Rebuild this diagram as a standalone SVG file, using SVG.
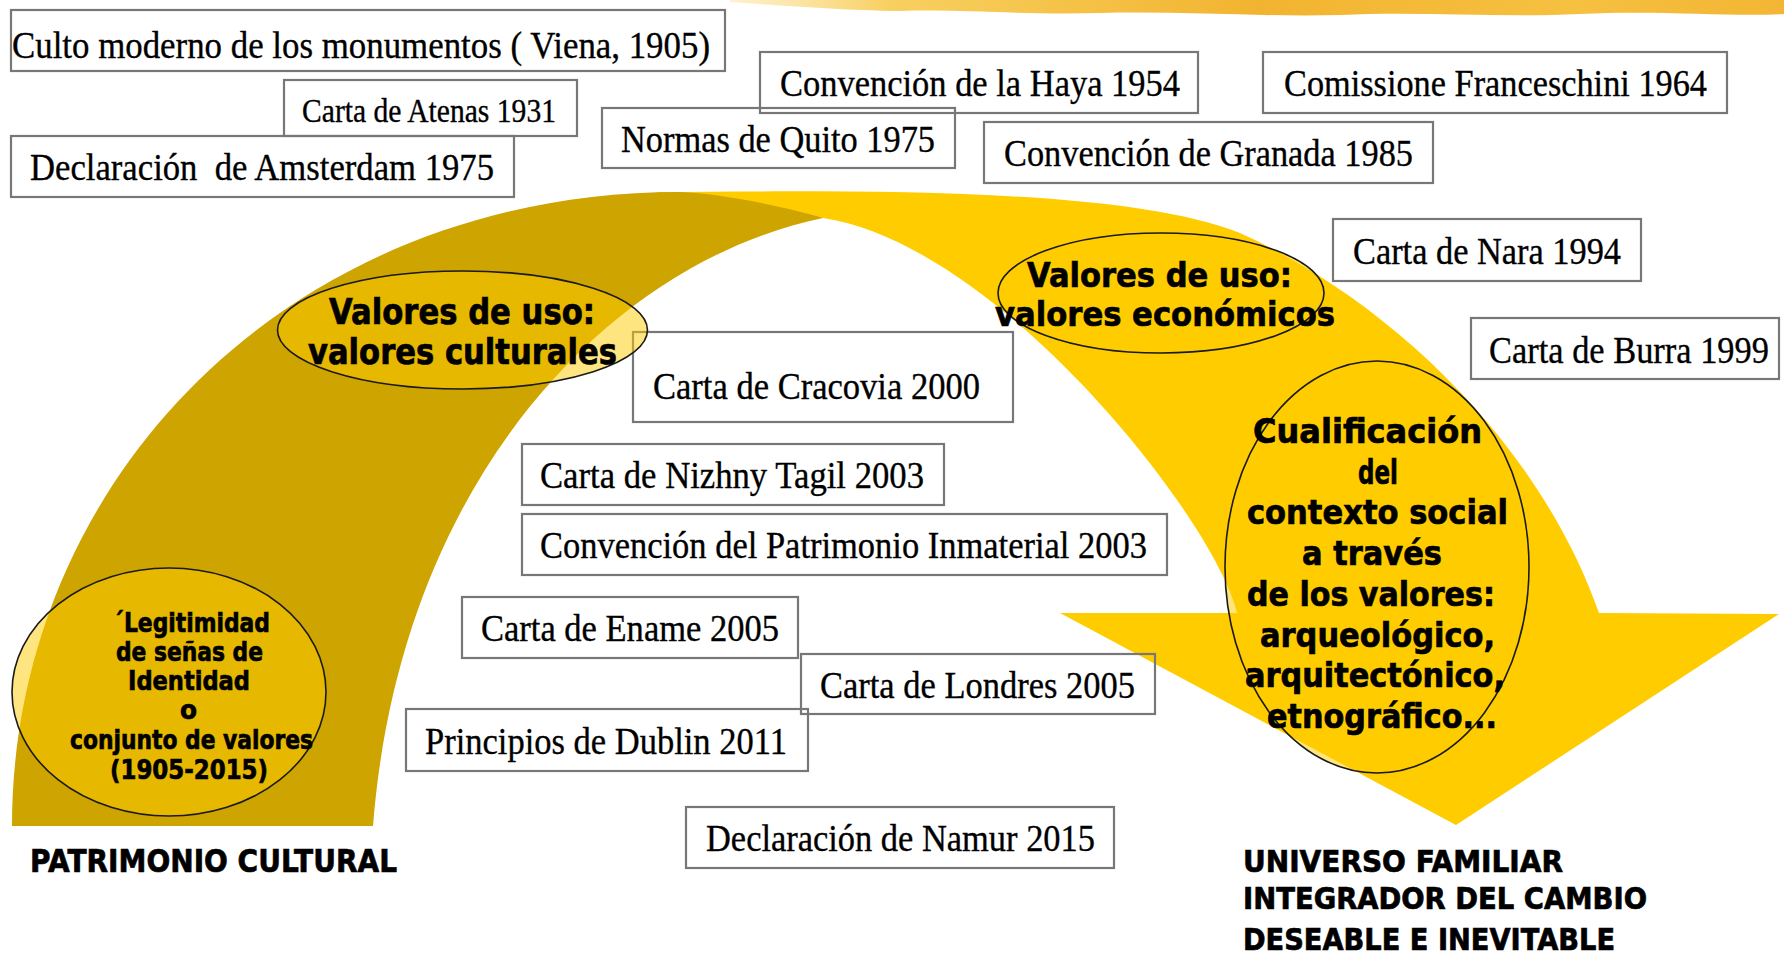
<svg xmlns="http://www.w3.org/2000/svg" width="1784" height="956" viewBox="0 0 1784 956">
<defs>
<linearGradient id="band" x1="0" y1="0" x2="1" y2="0">
<stop offset="0" stop-color="#FBE29A" stop-opacity="0.5"/>
<stop offset="0.15" stop-color="#F8D060"/>
<stop offset="0.5" stop-color="#F2B430"/>
<stop offset="0.8" stop-color="#F6C040"/>
<stop offset="1" stop-color="#F3B534"/>
</linearGradient>
<style>
.box rect{fill:none;stroke:#777;stroke-width:2.2}
.t{font-family:"Liberation Serif","Times New Roman",serif;font-size:38px;fill:#000;stroke:#000;stroke-width:0.35}
.b{font-family:Tahoma,"DejaVu Sans",sans-serif;font-weight:bold;fill:#000;stroke:#000;stroke-width:0.7}
.ell{fill:#FFCC00;fill-opacity:0.5;stroke:#1a1a1a;stroke-width:1.6}
</style>
</defs>
<rect width="1784" height="956" fill="#fff"/>
<path id="topband" d="M730,0 L1784,0 L1784,14 C1730,17 1660,10 1580,14 C1500,18 1420,11 1340,15 C1260,17 1180,11 1100,13 C1020,15 960,9 900,11 C840,10 790,6 730,2 Z" fill="url(#band)"/>
<g id="arch">
<path id="arrow" d="M620,200 L660,192 C900,190 1130,190 1240,233 C1390,301 1539,443 1599,613 L1779,614 L1456,825 L1060,613 L1237,613 C1215,520 1000,245 823,218 L700,220 Z" fill="#FFCC00"/>
<path id="band-left" d="M12,826 C12,480 290,192 680,192 C720,193 790,208 823,218 C610,262 400,480 373,826 Z" fill="#CDA400"/>
</g>
<g id="n-culto" class="box"><rect x="11" y="10" width="714" height="61"/><text class="t" x="12" y="58" textLength="698" lengthAdjust="spacingAndGlyphs">Culto moderno de los monumentos ( Viena, 1905)</text></g>
<g id="n-atenas" class="box"><rect x="284" y="80" width="293" height="56"/><text class="t" x="302" y="122" style="font-size:33px" textLength="254" lengthAdjust="spacingAndGlyphs">Carta de Atenas 1931</text></g>
<g id="n-amsterdam" class="box"><rect x="11" y="136" width="503" height="61"/><text class="t" x="30" y="180" xml:space="preserve" style="white-space:pre" textLength="464" lengthAdjust="spacingAndGlyphs">Declaración  de Amsterdam 1975</text></g>
<g id="n-quito" class="box"><rect x="602" y="108" width="353" height="60"/><text class="t" x="621" y="152" textLength="314" lengthAdjust="spacingAndGlyphs">Normas de Quito 1975</text></g>
<g id="n-haya" class="box"><rect x="760" y="52" width="438" height="61"/><text class="t" x="780" y="96" textLength="400" lengthAdjust="spacingAndGlyphs">Convención de la Haya 1954</text></g>
<g id="n-franceschini" class="box"><rect x="1263" y="52" width="464" height="61"/><text class="t" x="1284" y="96" textLength="423" lengthAdjust="spacingAndGlyphs">Comissione Franceschini 1964</text></g>
<g id="n-granada" class="box"><rect x="984" y="122" width="449" height="61"/><text class="t" x="1004" y="166" textLength="409" lengthAdjust="spacingAndGlyphs">Convención de Granada 1985</text></g>
<g id="n-nara" class="box"><rect x="1333" y="219" width="308" height="62"/><text class="t" x="1353" y="264" textLength="268" lengthAdjust="spacingAndGlyphs">Carta de Nara 1994</text></g>
<g id="n-burra" class="box"><rect x="1471" y="318" width="308" height="61"/><text class="t" x="1489" y="363" textLength="280" lengthAdjust="spacingAndGlyphs">Carta de Burra 1999</text></g>
<g id="n-cracovia" class="box"><rect x="633" y="332" width="380" height="90"/><text class="t" x="653" y="399" textLength="327" lengthAdjust="spacingAndGlyphs">Carta de Cracovia 2000</text></g>
<g id="n-nizhny" class="box"><rect x="522" y="444" width="422" height="61"/><text class="t" x="540" y="488" textLength="384" lengthAdjust="spacingAndGlyphs">Carta de Nizhny Tagil 2003</text></g>
<g id="n-inmaterial" class="box"><rect x="522" y="514" width="645" height="61"/><text class="t" x="540" y="558" textLength="607" lengthAdjust="spacingAndGlyphs">Convención del Patrimonio Inmaterial 2003</text></g>
<g id="n-ename" class="box"><rect x="462" y="597" width="336" height="61"/><text class="t" x="481" y="641" textLength="298" lengthAdjust="spacingAndGlyphs">Carta de Ename 2005</text></g>
<g id="n-londres" class="box"><rect x="801" y="654" width="354" height="60"/><text class="t" x="820" y="698" textLength="315" lengthAdjust="spacingAndGlyphs">Carta de Londres 2005</text></g>
<g id="n-dublin" class="box"><rect x="406" y="709" width="402" height="62"/><text class="t" x="425" y="754" textLength="362" lengthAdjust="spacingAndGlyphs">Principios de Dublin 2011</text></g>
<g id="n-namur" class="box"><rect x="686" y="807" width="428" height="61"/><text class="t" x="706" y="851" textLength="389" lengthAdjust="spacingAndGlyphs">Declaración de Namur 2015</text></g>
<g id="n-culturales">
<ellipse class="ell" cx="462.5" cy="330" rx="185" ry="59"/>
<text class="b" x="329" y="324" style="font-size:35px" textLength="266" lengthAdjust="spacingAndGlyphs">Valores de uso:</text>
<text class="b" x="308" y="364" style="font-size:35px" textLength="309" lengthAdjust="spacingAndGlyphs">valores culturales</text>
</g>
<g id="n-economicos">
<ellipse class="ell" cx="1161" cy="293" rx="163" ry="60"/>
<text class="b" x="1027" y="287" style="font-size:34px" textLength="265" lengthAdjust="spacingAndGlyphs">Valores de uso:</text>
<text class="b" x="995" y="326" style="font-size:34px" textLength="340" lengthAdjust="spacingAndGlyphs">valores económicos</text>
</g>
<g id="n-legitimidad">
<ellipse class="ell" cx="169" cy="692" rx="157" ry="124"/>
<g class="b" style="font-size:27px">
<text x="113" y="632" textLength="157" lengthAdjust="spacingAndGlyphs">´Legitimidad</text>
<text x="116" y="661" textLength="147" lengthAdjust="spacingAndGlyphs">de señas de</text>
<text x="128" y="690" textLength="122" lengthAdjust="spacingAndGlyphs">Identidad</text>
<text x="180" y="719" textLength="17" lengthAdjust="spacingAndGlyphs">o</text>
<text x="70" y="749" textLength="243" lengthAdjust="spacingAndGlyphs">conjunto de valores</text>
<text x="110" y="779" textLength="158" lengthAdjust="spacingAndGlyphs">(1905-2015)</text>
</g>
</g>
<g id="n-cualificacion">
<ellipse class="ell" cx="1377" cy="567" rx="152" ry="206"/>
<g class="b" style="font-size:33px">
<text x="1253" y="443" textLength="229" lengthAdjust="spacingAndGlyphs">Cualificación</text>
<text x="1358" y="484" textLength="40" lengthAdjust="spacingAndGlyphs">del</text>
<text x="1247" y="524" textLength="261" lengthAdjust="spacingAndGlyphs">contexto social</text>
<text x="1302" y="565" textLength="140" lengthAdjust="spacingAndGlyphs">a través</text>
<text x="1247" y="606" textLength="248" lengthAdjust="spacingAndGlyphs">de los valores:</text>
<text x="1260" y="647" textLength="235" lengthAdjust="spacingAndGlyphs">arqueológico,</text>
<text x="1245" y="687" textLength="260" lengthAdjust="spacingAndGlyphs">arquitectónico,</text>
<text x="1267" y="728" textLength="230" lengthAdjust="spacingAndGlyphs">etnográfico...</text>
</g>
</g>
<g id="n-patrimonio"><text class="b" x="30" y="872" style="font-size:32px" textLength="367" lengthAdjust="spacingAndGlyphs">PATRIMONIO CULTURAL</text></g>
<g id="n-universo" class="b" style="font-size:30px">
<text x="1243" y="872" textLength="320" lengthAdjust="spacingAndGlyphs">UNIVERSO FAMILIAR</text>
<text x="1243" y="909" textLength="404" lengthAdjust="spacingAndGlyphs">INTEGRADOR DEL CAMBIO</text>
<text x="1243" y="950" textLength="372" lengthAdjust="spacingAndGlyphs">DESEABLE E INEVITABLE</text>
</g>
</svg>
